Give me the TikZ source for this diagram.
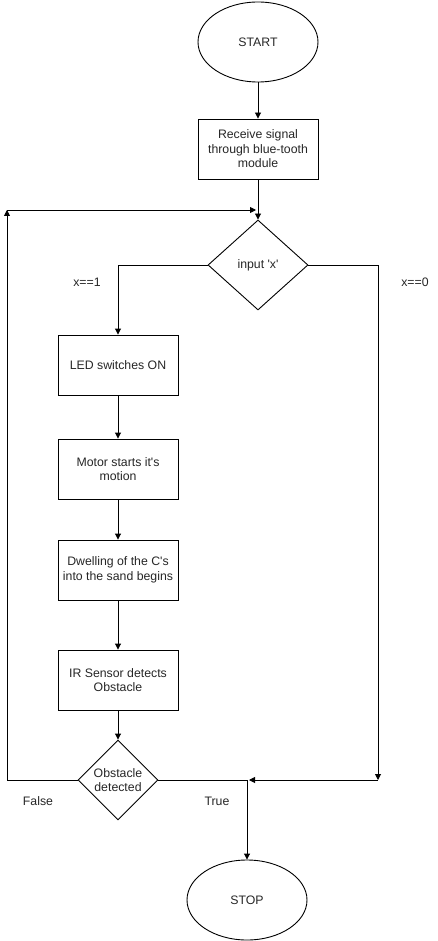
\documentclass[tikz,border=0pt]{standalone}
\usepackage{fontspec}
\setmainfont{Liberation Sans}
\usetikzlibrary{shapes.geometric,arrows.meta}
\begin{document}
\begin{tikzpicture}[x=1pt,y=-1pt,
  every node/.style={font=\fontsize{12.3}{14.5}\selectfont, text=black!85, inner sep=0pt},
  box/.style={draw, line width=0.9pt, minimum width=120pt, minimum height=60pt, align=center},
  term/.style={draw, ellipse, line width=0.9pt, minimum width=120pt, minimum height=80pt},
  dec/.style={draw, diamond, line width=0.9pt, align=center},
  lbl/.style={},
  conn/.style={line width=0.9pt, -{Triangle[length=6pt,width=6pt]}},
  plain/.style={line width=0.9pt}]
\useasboundingbox (0,0) rectangle (438,941);
\node[term] (start) at (258,42) {START};
\node[box] (recv) at (258,149) {Receive signal\\through blue-tooth\\module};
\node[dec, minimum width=100pt, minimum height=90pt] (inp) at (258,265) {input \textquotesingle x\textquotesingle};
\node[box] (led) at (118,365) {LED switches ON};
\node[box] (motor) at (118,469) {Motor starts it\textquotesingle s\\motion};
\node[box] (dwell) at (118,570) {Dwelling of the C\textquotesingle s\\into the sand begins};
\node[box] (ir) at (118,680) {IR Sensor detects\\Obstacle};
\node[dec, minimum width=80pt, minimum height=80pt] (obs) at (118,780) {Obstacle\\detected};
\node[term] (stop) at (247,900) {STOP};

\coordinate (lt) at (7,210);
\coordinate (ltin) at (256,210);
\coordinate (jn) at (247,780);
\coordinate (jtip) at (249,780);
\coordinate (rb) at (378,780);

\node[lbl] (x1) at (87,282) {x==1};
\node[lbl] (x0) at (415,282) {x==0};
\node[lbl] (f) at (38,801) {False};
\node[lbl] (t) at (217,801) {True};

\draw[conn] (start) -- (recv);
\draw[conn] (recv) -- (inp);
\draw[conn] (inp.west) -| (led.north);
\draw[conn] (inp.east) -| (rb);
\draw[conn] (led) -- (motor);
\draw[conn] (motor) -- (dwell);
\draw[conn] (dwell) -- (ir);
\draw[conn] (ir) -- (obs);
\draw[conn] (obs.west) -| (lt);
\draw[conn] (lt) -- (ltin);
\draw[plain] (obs.east) -- (jn);
\draw[conn] (rb) -- (jtip);
\draw[conn] (jn) -- (stop);
\end{tikzpicture}
\end{document}
